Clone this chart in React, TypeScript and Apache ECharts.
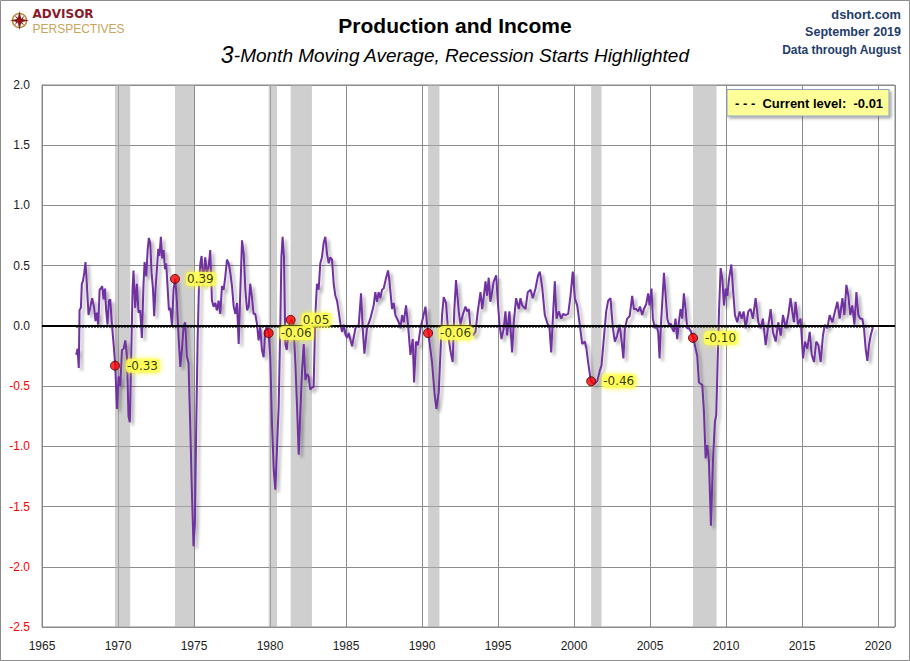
import React, { useEffect, useRef } from "react";
import * as echarts from "echarts";

// ---- Data ----
const years = [
  1967.25, 1967.34, 1967.42, 1967.47, 1967.56, 1967.62, 1967.69, 1967.78, 1967.86, 1967.95,
  1968.06, 1968.17, 1968.3, 1968.43, 1968.52, 1968.61, 1968.7, 1968.79, 1968.87, 1968.96,
  1969.05, 1969.14, 1969.22, 1969.31, 1969.4, 1969.49, 1969.6, 1969.71, 1969.82, 1969.93,
  1970.04, 1970.15, 1970.26, 1970.37, 1970.48, 1970.59, 1970.69, 1970.78, 1970.87, 1970.96,
  1971.02, 1971.13, 1971.24, 1971.35, 1971.46, 1971.57, 1971.68, 1971.75, 1971.86, 1971.95,
  1972.03, 1972.12, 1972.21, 1972.3, 1972.38, 1972.47, 1972.56, 1972.65, 1972.73, 1972.82,
  1972.91, 1973.0, 1973.09, 1973.17, 1973.26, 1973.35, 1973.44, 1973.55, 1973.66, 1973.77,
  1973.88, 1973.99, 1974.1, 1974.21, 1974.32, 1974.42, 1974.53, 1974.64, 1974.75, 1974.86,
  1974.97, 1975.06, 1975.15, 1975.24, 1975.33, 1975.42, 1975.5, 1975.61, 1975.74, 1975.85,
  1975.96, 1976.07, 1976.18, 1976.29, 1976.4, 1976.51, 1976.62, 1976.73, 1976.84, 1976.95,
  1977.06, 1977.17, 1977.28, 1977.39, 1977.5, 1977.61, 1977.72, 1977.83, 1977.94, 1978.05,
  1978.16, 1978.27, 1978.38, 1978.49, 1978.6, 1978.7, 1978.81, 1978.92, 1979.03, 1979.14,
  1979.25, 1979.36, 1979.47, 1979.58, 1979.69, 1979.8, 1979.91, 1980.02, 1980.13, 1980.25,
  1980.35, 1980.45, 1980.57, 1980.68, 1980.75, 1980.83, 1980.92, 1981.01, 1981.1, 1981.19,
  1981.29, 1981.4, 1981.54, 1981.67, 1981.78, 1981.89, 1982.0, 1982.11, 1982.22, 1982.33,
  1982.44, 1982.54, 1982.65, 1982.76, 1982.87, 1982.98, 1983.09, 1983.2, 1983.31, 1983.42,
  1983.53, 1983.64, 1983.75, 1983.86, 1983.97, 1984.08, 1984.19, 1984.3, 1984.41, 1984.52,
  1984.63, 1984.74, 1984.85, 1984.96, 1985.07, 1985.18, 1985.4, 1985.62, 1985.84, 1985.99,
  1986.1, 1986.21, 1986.38, 1986.6, 1986.82, 1986.93, 1987.04, 1987.15, 1987.26, 1987.37,
  1987.48, 1987.64, 1987.77, 1987.86, 1988.03, 1988.14, 1988.25, 1988.47, 1988.58, 1988.69,
  1988.8, 1988.95, 1989.08, 1989.24, 1989.39, 1989.48, 1989.61, 1989.74, 1989.9, 1990.05,
  1990.23, 1990.33, 1990.42, 1990.66, 1990.84, 1990.95, 1991.1, 1991.21, 1991.32, 1991.43,
  1991.58, 1991.76, 1991.89, 1992.02, 1992.13, 1992.24, 1992.42, 1992.53, 1992.68, 1992.86,
  1992.97, 1993.08, 1993.19, 1993.34, 1993.52, 1993.67, 1993.85, 1993.96, 1994.07, 1994.18,
  1994.28, 1994.39, 1994.5, 1994.61, 1994.72, 1994.88, 1994.99, 1995.1, 1995.23, 1995.38,
  1995.49, 1995.6, 1995.75, 1995.93, 1996.04, 1996.19, 1996.37, 1996.48, 1996.59, 1996.81,
  1996.96, 1997.14, 1997.29, 1997.47, 1997.64, 1997.75, 1997.91, 1998.08, 1998.23, 1998.39,
  1998.5, 1998.61, 1998.74, 1998.85, 1999.0, 1999.16, 1999.29, 1999.44, 1999.62, 1999.77,
  1999.92, 2000.06, 2000.21, 2000.36, 2000.54, 2000.71, 2000.82, 2000.93, 2001.11, 2001.31,
  2001.53, 2001.68, 2001.81, 2001.96, 2002.12, 2002.25, 2002.4, 2002.56, 2002.69, 2002.84,
  2003.0, 2003.13, 2003.25, 2003.35, 2003.5, 2003.66, 2003.83, 2003.94, 2004.09, 2004.23,
  2004.34, 2004.49, 2004.6, 2004.75, 2004.88, 2004.97, 2005.1, 2005.19, 2005.32, 2005.41,
  2005.54, 2005.63, 2005.72, 2005.81, 2005.92, 2006.03, 2006.14, 2006.25, 2006.36, 2006.46,
  2006.57, 2006.68, 2006.79, 2006.9, 2007.01, 2007.12, 2007.23, 2007.34, 2007.45, 2007.56,
  2007.67, 2007.85, 2008.11, 2008.22, 2008.44, 2008.55, 2008.66, 2008.77, 2008.88, 2009.01,
  2009.14, 2009.27, 2009.36, 2009.45, 2009.54, 2009.65, 2009.76, 2009.87, 2009.98, 2010.09,
  2010.2, 2010.35, 2010.46, 2010.59, 2010.74, 2010.9, 2011.03, 2011.16, 2011.29, 2011.47,
  2011.62, 2011.77, 2011.95, 2012.13, 2012.28, 2012.43, 2012.61, 2012.76, 2012.94, 2013.09,
  2013.27, 2013.44, 2013.6, 2013.75, 2013.93, 2014.1, 2014.25, 2014.36, 2014.47, 2014.58,
  2014.74, 2014.91, 2015.07, 2015.2, 2015.35, 2015.51, 2015.64, 2015.79, 2015.94, 2016.08,
  2016.23, 2016.38, 2016.51, 2016.67, 2016.82, 2017.0, 2017.17, 2017.33, 2017.48, 2017.66,
  2017.79, 2017.92, 2018.05, 2018.18, 2018.31, 2018.45, 2018.58, 2018.71, 2018.84, 2018.97,
  2019.08, 2019.19, 2019.3, 2019.41, 2019.52, 2019.67,
];

const values = [
  -0.24, -0.19, -0.35, 0.13, 0.15, 0.35, 0.37, 0.44, 0.53, 0.35,
  0.09, 0.15, 0.23, 0.15, 0.04, 0.11, 0.01, 0.3, 0.31, 0.33,
  0.22, 0.31, 0.13, 0.01, 0.21, 0.22, 0.01, -0.15, -0.33, -0.69,
  -0.42, -0.5, -0.2, -0.19, -0.12, -0.25, -0.75, -0.8, -0.25, 0.31,
  0.46, 0.15, 0.35, 0.11, 0.13, -0.1, 0.35, 0.53, 0.41, 0.63,
  0.73, 0.69, 0.44, 0.31, 0.08, 0.31, 0.47, 0.64, 0.58, 0.74,
  0.56, 0.63, 0.47, 0.52, 0.33, 0.13, 0.15, 0.0, 0.31, 0.39,
  0.19, -0.1, -0.34, -0.19, 0.0, 0.03, -0.25, -0.31, -0.81, -1.37,
  -1.83, -1.64, -0.81, -0.11, 0.35, 0.52, 0.58, 0.33, 0.57, 0.44,
  0.49, 0.63, 0.21, 0.16, 0.19, 0.13, 0.21, 0.1, 0.33, 0.3,
  0.41, 0.55, 0.52, 0.44, 0.33, 0.16, 0.1, 0.19, -0.15, 0.3,
  0.71, 0.6, 0.3, 0.13, 0.16, 0.35, 0.24, 0.1, 0.1, 0.02,
  -0.12, -0.01, -0.2, -0.26, -0.04, -0.01, -0.06, -0.26, -0.81, -1.2,
  -1.36, -1.05, -0.67, 0.01, 0.57, 0.74, 0.57, -0.15, -0.2, -0.09,
  0.02, 0.05, 0.02, -0.31, -0.67, -1.07, -0.7, -0.37, -0.15, -0.45,
  -0.4, -0.42, -0.53, -0.51, -0.51, 0.08, 0.35, 0.3, 0.52, 0.57,
  0.69, 0.74, 0.6, 0.52, 0.57, 0.55, 0.35, 0.25, 0.21, 0.12,
  0.02, -0.05, 0.01, -0.07, -0.1, -0.06, -0.17, -0.02, 0.01, 0.27,
  -0.02, -0.23, -0.02, 0.06, 0.17, 0.28, 0.2, 0.28, 0.23, 0.3,
  0.31, 0.4, 0.46, 0.37, 0.14, 0.19, 0.09, 0.03, -0.02, 0.09,
  0.03, 0.17, 0.01, -0.24, -0.11, -0.47, -0.13, -0.16, -0.02, 0.06,
  0.16, 0.01, -0.06, -0.3, -0.58, -0.69, -0.55, -0.24, 0.09, 0.24,
  0.19, -0.11, -0.22, -0.3, 0.14, 0.38, 0.12, 0.01, 0.09, 0.16,
  0.12, 0.14, -0.02, -0.08, -0.05, 0.12, 0.28, 0.14, 0.25, 0.37,
  0.25, 0.4, 0.2, 0.28, 0.37, 0.42, 0.2, 0.01, -0.11, -0.02,
  0.12, -0.08, 0.12, -0.22, 0.03, 0.23, 0.14, 0.23, 0.17, 0.14,
  0.28, 0.3, 0.23, 0.31, 0.42, 0.45, 0.32, 0.09, 0.03, -0.02,
  -0.22, 0.06, 0.37, 0.06, 0.12, 0.06, 0.1, 0.09, 0.1, 0.25,
  0.45, 0.23, 0.17, 0.03, -0.15, -0.13, -0.19, -0.3, -0.46, -0.48,
  -0.46, -0.38, -0.33, -0.11, 0.12, 0.21, 0.23, -0.02, -0.13, -0.08,
  0.01, -0.12, -0.27, -0.02, 0.06, 0.08, 0.25, 0.14, 0.14, 0.12,
  0.16, 0.09, 0.14, 0.18, 0.27, 0.17, 0.31, 0.06, -0.02, 0.01,
  -0.05, -0.27, 0.01, 0.2, 0.44, 0.25, 0.06, 0.01, 0.02, -0.02,
  -0.05, 0.06, -0.11, 0.03, 0.14, 0.06, 0.27, 0.14, -0.02, -0.02,
  -0.04, -0.1, -0.25, -0.47, -0.49, -0.71, -1.1, -0.99, -1.13, -1.66,
  -1.13, -0.8, -0.74, -0.3, 0.12, 0.48, 0.39, 0.17, 0.31, 0.25,
  0.39, 0.51, 0.31, 0.09, 0.03, 0.12, 0.06, 0.12, -0.02, 0.12,
  0.14, 0.06, 0.23, 0.03, -0.02, 0.06, -0.16, -0.02, 0.14, -0.05,
  -0.13, 0.03, -0.08, 0.09, -0.02, 0.09, 0.23, 0.12, 0.03, 0.2,
  0.01, 0.06, -0.27, -0.13, -0.19, -0.05, -0.24, -0.3, -0.13, -0.16,
  -0.3, -0.08, 0.01, -0.02, 0.09, 0.03, 0.12, 0.2, 0.06, 0.23,
  0.09, 0.34, 0.25, 0.09, 0.17, 0.01, 0.28, 0.09, 0.06, 0.06,
  -0.02, -0.19, -0.29, -0.16, -0.08, -0.01,
];

const recessionStarts = [1969.8, 1973.75, 1979.91, 1981.36, 1990.4, 2001.13, 2007.83];
const recessionEnds = [1970.8, 1975.0, 1980.46, 1982.76, 1991.15, 2001.81, 2009.38];
const startValues = [-0.33, 0.39, -0.06, 0.05, -0.06, -0.46, -0.1];

const currentLevel = -0.01;
const xTicks = { min: 1965, max: 2021.12, interval: 5 };
const yTicks = { min: -2.5, max: 2.0, interval: 0.5 };

export default function App() {
  const ref = useRef<HTMLDivElement>(null);

  useEffect(() => {
    if (!ref.current) return;
    const chart = echarts.init(ref.current, undefined, { renderer: "svg" });

    const lineData = years.map((y, i) => [y, values[i]]);
    const dotData = recessionStarts.map((y, i) => [y, startValues[i]]);
    const levelData = [
      [years[0], currentLevel],
      [years[years.length - 1], currentLevel],
    ];
    const bands = recessionStarts.map((s, i) => [{ xAxis: s }, { xAxis: recessionEnds[i] }]);

    const axisFont = "'Liberation Sans', Arial, sans-serif";

    chart.setOption({
      animation: false,
      backgroundColor: "#ffffff",
      grid: {
        left: 42,
        right: 15,
        top: 85,
        bottom: 34,
        show: true,
        borderColor: "#888888",
        borderWidth: 1,
        backgroundColor: "transparent",
      },
      xAxis: {
        type: "value",
        min: xTicks.min,
        max: xTicks.max,
        interval: xTicks.interval,
        axisLine: { show: true, lineStyle: { color: "#888888" } },
        axisTick: { show: false },
        splitLine: { show: true, lineStyle: { color: "#8c8c8c", width: 1 } },
        axisLabel: {
          formatter: (v: number) => String(v),
          color: "#1a1a1a",
          fontFamily: axisFont,
          fontSize: 12,
          margin: 13,
          showMaxLabel: false,
        },
      },
      yAxis: {
        type: "value",
        min: yTicks.min,
        max: yTicks.max,
        interval: yTicks.interval,
        axisLine: { show: true, lineStyle: { color: "#888888" } },
        axisTick: { show: false },
        splitLine: { show: true, lineStyle: { color: "#8c8c8c", width: 1 } },
        axisLabel: {
          formatter: (v: number) => Number(v).toFixed(1),
          color: (v: any) => (Number(v) < 0 ? "#ff0000" : "#1a1a1a"),
          fontFamily: axisFont,
          fontSize: 12,
          margin: 12,
        },
      },
      series: [
        {
          name: "bands",
          type: "line",
          z: 1,
          data: levelData,
          symbol: "none",
          lineStyle: { opacity: 0 },
          silent: true,
          markArea: {
            silent: true,
            itemStyle: { color: "rgba(175,175,175,0.6)" },
            data: bands,
          },
        },
        {
          name: "Current level",
          type: "line",
          z: 2,
          data: levelData,
          symbol: "none",
          lineStyle: { color: "#000000", width: 1.5, type: "dotted" },
          silent: true,
          markLine: {
            silent: true,
            symbol: "none",
            label: { show: false },
            lineStyle: { color: "#000000", width: 2, type: "solid" },
            data: [{ yAxis: 0 }],
          },
        },
        {
          name: "Production and Income",
          type: "line",
          z: 3,
          data: lineData,
          symbol: "none",
          smooth: false,
          lineStyle: {
            color: "#7030a0",
            width: 2,
            shadowColor: "rgba(0,0,0,0.3)",
            shadowBlur: 3,
            shadowOffsetX: 3,
            shadowOffsetY: 3,
          },
        },
        {
          name: "Recession starts",
          type: "scatter",
          z: 5,
          data: dotData,
          symbol: "circle",
          symbolSize: 9,
          itemStyle: { color: "#ff0000", borderColor: "#400000", borderWidth: 1 },
          label: {
            show: true,
            position: "right",
            distance: 6,
            formatter: (p: any) => Number(p.value[1]).toFixed(2),
            color: "#000000",
            fontFamily: "'DejaVu Sans', Verdana, sans-serif",
            fontSize: 12,
            backgroundColor: "#ffff55",
            borderRadius: 4,
            padding: [1, 2, 1, 1],
            shadowColor: "#ffff00",
            shadowBlur: 5,
          },
        },
      ],
      graphic: [
        {
          type: "rect",
          silent: true,
          shape: { x: 0.5, y: 0.5, width: 909, height: 660 },
          style: { fill: "none", stroke: "#8c8c8c", lineWidth: 1 },
        },
        // logo
        {
          type: "circle",
          silent: true,
          shape: { cx: 19.5, cy: 20.5, r: 7 },
          style: { fill: "none", stroke: "#b8893e", lineWidth: 1.5 },
        },
        {
          type: "polygon",
          silent: true,
          shape: {
            points: [
              [19.5, 11], [21.3, 18.7], [29, 20.5], [21.3, 22.3],
              [19.5, 30], [17.7, 22.3], [10, 20.5], [17.7, 18.7],
            ],
          },
          style: { fill: "#8b1a1a" },
        },
        {
          type: "polygon",
          silent: true,
          shape: {
            points: [
              [14.5, 15.5], [20.5, 19.5], [24.5, 15.5], [21.5, 21.5],
              [24.5, 25.5], [18.5, 21.5], [14.5, 25.5], [17.5, 19.5],
            ],
          },
          style: { fill: "#8b1a1a" },
        },
        {
          type: "text",
          silent: true,
          x: 32.5,
          y: 14,
          style: {
            text: "ADVISOR",
            fill: "#8b1a2b",
            font: "bold 12px 'DejaVu Sans', Verdana, sans-serif",
            textVerticalAlign: "middle",
          },
        },
        {
          type: "text",
          silent: true,
          x: 32.5,
          y: 28.5,
          style: {
            text: "PERSPECTIVES",
            fill: "#c8a45c",
            font: "12px 'Liberation Sans', Arial, sans-serif",
            textVerticalAlign: "middle",
          },
        },
        // titles
        {
          type: "text",
          silent: true,
          x: 455,
          y: 25,
          style: {
            text: "Production and Income",
            fill: "#000000",
            font: "bold 21px 'Liberation Sans', Arial, sans-serif",
            textAlign: "center",
            textVerticalAlign: "middle",
          },
        },
        {
          type: "text",
          silent: true,
          x: 455,
          y: 55,
          style: {
            text: "{a|3}{b|-Month Moving Average, Recession Starts Highlighted}",
            textAlign: "center",
            textVerticalAlign: "middle",
            rich: {
              a: {
                fill: "#000000",
                font: "italic 23px 'Liberation Sans', Arial, sans-serif",
              },
              b: {
                fill: "#000000",
                font: "italic 19px 'Liberation Sans', Arial, sans-serif",
              },
            },
          },
        },
        // right-hand notes
        {
          type: "text",
          silent: true,
          x: 901,
          y: 14,
          style: {
            text: "dshort.com",
            fill: "#1f3d6b",
            font: "bold 12.8px 'Liberation Sans', Arial, sans-serif",
            textAlign: "right",
            textVerticalAlign: "middle",
          },
        },
        {
          type: "text",
          silent: true,
          x: 901,
          y: 31.5,
          style: {
            text: "September 2019",
            fill: "#1f3d6b",
            font: "bold 12.5px 'Liberation Sans', Arial, sans-serif",
            textAlign: "right",
            textVerticalAlign: "middle",
          },
        },
        {
          type: "text",
          silent: true,
          x: 901,
          y: 49.5,
          style: {
            text: "Data through August",
            fill: "#1f3d6b",
            font: "bold 12px 'Liberation Sans', Arial, sans-serif",
            textAlign: "right",
            textVerticalAlign: "middle",
          },
        },
        // legend box
        {
          type: "rect",
          silent: true,
          z: 10,
          shape: { x: 727, y: 89.5, width: 162, height: 26.5 },
          style: {
            fill: "#ffff99",
            stroke: "#8ea3c0",
            lineWidth: 1,
            shadowColor: "rgba(0,0,0,0.35)",
            shadowBlur: 3,
            shadowOffsetX: 2,
            shadowOffsetY: 2,
          },
        },
        {
          type: "text",
          silent: true,
          z: 11,
          x: 735,
          y: 103,
          style: {
            text: "- - -  Current level:  " + currentLevel.toFixed(2),
            fill: "#000000",
            font: "bold 13px 'Liberation Sans', Arial, sans-serif",
            textVerticalAlign: "middle",
          },
        },
      ],
    });

    return () => chart.dispose();
  }, []);

  return (
    <div
      ref={ref}
      style={{ position: "fixed", left: 0, top: 0, width: 910, height: 661, background: "#fff" }}
    />
  );
}
